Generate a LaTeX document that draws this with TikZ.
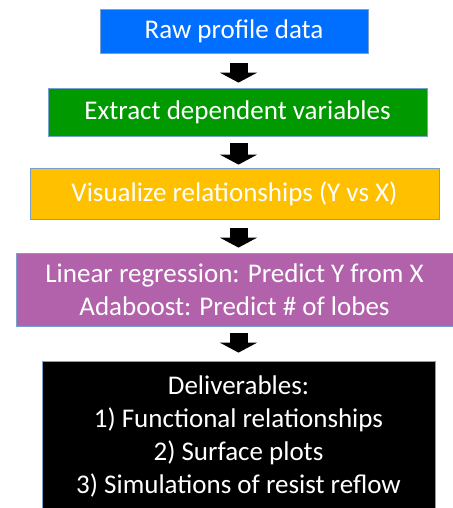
\documentclass[tikz,border=0pt]{standalone}
\usepackage{fontspec}
\setmainfont{Carlito}
\usetikzlibrary{arrows.meta}
\definecolor{cblue}{RGB}{0,110,255}
\definecolor{cgreen}{RGB}{0,153,0}
\definecolor{corange}{RGB}{255,192,0}
\definecolor{cpurple}{RGB}{178,98,170}
\definecolor{cborder}{RGB}{120,160,205}
\tikzset{
  box/.style={draw=cborder, line width=0.8pt, inner sep=0pt, text=white, align=center,
    font=\fontsize{27pt}{33pt}\selectfont},
  flow/.style={line width=18pt, line cap=butt, -{Triangle[width=37pt,length=10pt]}}
}
\begin{document}
\begin{tikzpicture}[x=1pt,y=-1pt]
\useasboundingbox (0,0) rectangle (452,508);
\coordinate (ax) at (238.5,0);
\node[box, fill=cblue, minimum width=268pt, minimum height=44pt] (raw) at (234,31) {Raw profile data};
\node[box, fill=cgreen, minimum width=379pt, minimum height=48pt] (ext) at (237.5,112) {Extract dependent variables};
\node[box, fill=corange, minimum width=409pt, minimum height=51pt] (vis) at (234.5,193.5) {Visualize relationships (Y vs X)};
\node[box, fill=cpurple, minimum width=437pt, minimum height=73pt] (reg) at (234.5,289.5) {Linear regression: Predict Y from X\\Adaboost: Predict \# of lobes};
\node[box, fill=black, minimum width=393pt, minimum height=151pt] (del) at (238.5,436.5) {Deliverables:\\1) Functional relationships\\2) Surface plots\\3) Simulations of resist reflow};
\draw[flow, shorten <=10pt, shorten >=5pt] (raw.south -| ax) -- (ext.north -| ax);
\draw[flow, shorten <=7pt, shorten >=3pt] (ext.south -| ax) -- (vis.north -| ax);
\draw[flow, shorten <=9pt, shorten >=5pt] (vis.south -| ax) -- (reg.north -| ax);
\draw[flow, shorten <=7pt, shorten >=8pt] (reg.south -| ax) -- (del.north -| ax);
\end{tikzpicture}
\end{document}
